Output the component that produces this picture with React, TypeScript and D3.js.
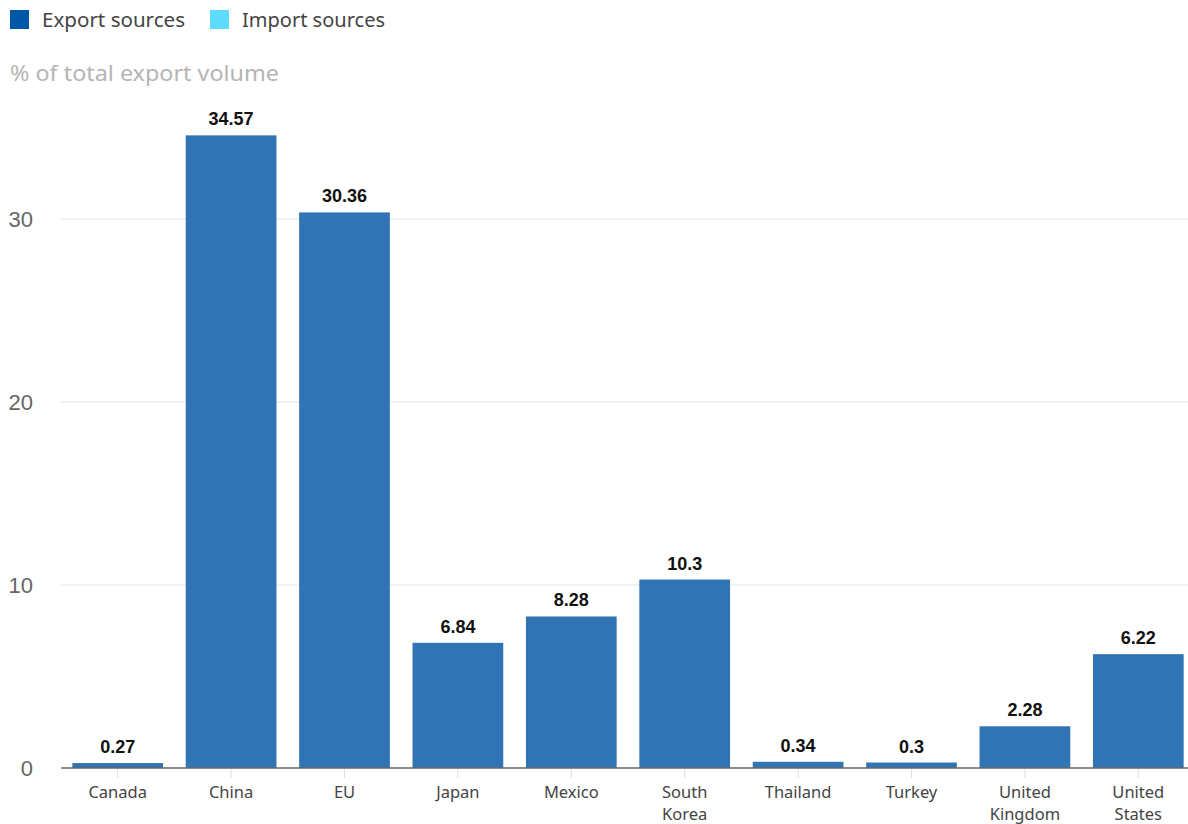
import React from "react";
import * as d3 from "d3";

const categories: string[] = [
  "Canada",
  "China",
  "EU",
  "Japan",
  "Mexico",
  "South Korea",
  "Thailand",
  "Turkey",
  "United Kingdom",
  "United States",
];
const exportShares: number[] = [0.27, 34.57, 30.36, 6.84, 8.28, 10.3, 0.34, 0.3, 2.28, 6.22];
const yTicks: number[] = [0, 10, 20, 30];
const legendItems: { label: string; color: string }[] = [
  { label: "Export sources", color: "#0057a8" },
  { label: "Import sources", color: "#5ddcff" },
];
const yTitle = "% of total export volume";

const W = 1188;
const H = 824;
const left = 61;
const rightEdge = 1195;
const baseY = 768;

const labelLines: Record<string, string[]> = {
  "South Korea": ["South", "Korea"],
  "United Kingdom": ["United", "Kingdom"],
  "United States": ["United", "States"],
};

export default function App() {
  const x = d3
    .scaleBand<string>()
    .domain(categories)
    .range([left, rightEdge])
    .paddingInner(0.2)
    .paddingOuter(0.1);
  const y = d3.scaleLinear().domain([0, 30]).range([baseY, 219]);
  const sans = "'Noto Sans', 'Open Sans', sans-serif";
  const arial = "'Liberation Sans', Arial, sans-serif";

  return (
    <svg
      width={W}
      height={H}
      style={{ position: "absolute", left: 0, top: 0, background: "#fff" }}
    >
      {/* legend */}
      {legendItems.map((it, i) => {
        const lx = 10 + i * 200;
        return (
          <g key={it.label}>
            <rect x={lx} y={10} width={19} height={19} fill={it.color} />
            <text
              x={lx + 32}
              y={27}
              fontSize={20}
              fill="#444"
              fontFamily={sans}
              textLength={143}
              lengthAdjust="spacingAndGlyphs"
            >
              {it.label}
            </text>
          </g>
        );
      })}
      <text
        x={10}
        y={81}
        fontSize={22}
        fill="#b5b5b5"
        fontFamily={sans}
        textLength={269}
        lengthAdjust="spacingAndGlyphs"
      >
        {yTitle}
      </text>

      {/* grid and y ticks */}
      {yTicks.map((t) => (
        <g key={t}>
          {t !== 0 && (
            <line x1={left} x2={W} y1={y(t)} y2={y(t)} stroke="#e4e4e4" strokeWidth={1} />
          )}
          <text
            x={33}
            y={y(t)}
            dy="0.36em"
            textAnchor="end"
            fontSize={22}
            fill="#666"
            fontFamily={arial}
          >
            {t}
          </text>
        </g>
      ))}

      {/* bars */}
      {categories.map((c, i) => {
        const v = exportShares[i];
        const bx = x(c)!;
        return (
          <g key={c}>
            <rect
              x={bx}
              y={y(v)}
              width={x.bandwidth()}
              height={baseY - y(v)}
              fill="#3174b3"
            />
            <text
              x={bx + x.bandwidth() / 2}
              y={y(v) - 10}
              textAnchor="middle"
              fontSize={18}
              fontWeight="bold"
              fill="#111"
              fontFamily={arial}
            >
              {String(v)}
            </text>
          </g>
        );
      })}

      {/* x axis */}
      <line x1={left} x2={W} y1={baseY} y2={baseY} stroke="#666" strokeWidth={1.3} />
      {categories.map((c) => {
        const cx = x(c)! + x.bandwidth() / 2;
        const lines = labelLines[c] ?? [c];
        return (
          <g key={c}>
            <line x1={cx} x2={cx} y1={baseY + 1} y2={baseY + 10} stroke="#ddd" strokeWidth={1} />
            {lines.map((ln, k) => (
              <text
                key={k}
                x={cx}
                y={798 + k * 22}
                textAnchor="middle"
                fontSize={16.5}
                fill="#444"
                fontFamily={sans}
              >
                {ln}
              </text>
            ))}
          </g>
        );
      })}
    </svg>
  );
}
